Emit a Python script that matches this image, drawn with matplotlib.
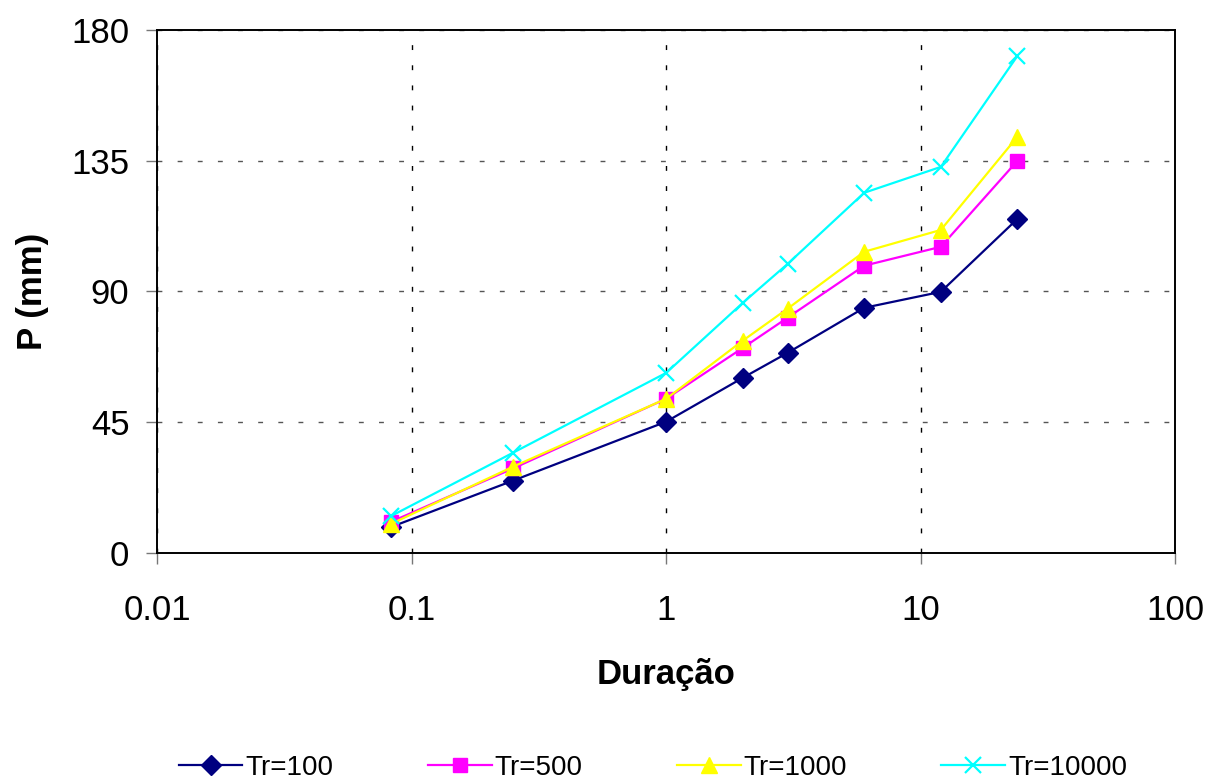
import matplotlib.pyplot as plt
import numpy as np

plt.rcParams['font.family'] = ['Liberation Sans', 'DejaVu Sans']

# data
duracao = [0.0833, 0.25, 1, 2, 3, 6, 12, 24]
tr100 = [8.9, 24.8, 45.1, 60.2, 68.8, 84.3, 89.8, 114.9]
tr500 = [10.7, 29.0, 53.0, 70.5, 80.9, 98.8, 105.3, 134.9]
tr1000 = [10.0, 29.6, 53.0, 73.0, 84.0, 103.6, 111.1, 143.2]
tr10000 = [12.7, 34.4, 61.9, 86.0, 99.4, 123.9, 132.8, 171.0]

fig = plt.figure(figsize=(12.09, 7.84), dpi=100)
ax = fig.add_axes([0.13, 0.295, 0.842, 0.667])

ax.plot(duracao, tr100, color='#000080', marker='D', markersize=10, lw=1.6, label='Tr=100')
ax.plot(duracao, tr500, color='#FF00FF', marker='s', markersize=10, lw=1.6, label='Tr=500')
ax.plot(duracao, tr1000, color='#FFFF00', marker='^', markersize=12, lw=1.6, label='Tr=1000')
ax.plot(duracao, tr10000, color='#00FFFF', marker='x', markersize=12, mew=1.6, lw=1.6, label='Tr=10000')

ax.set_xscale('log')
ax.set_xlim(0.01, 100)
ax.set_ylim(0, 180)
ax.set_yticks([0, 45, 90, 135, 180])
ax.set_xticks([0.01, 0.1, 1, 10, 100])
ax.set_xticklabels(['0.01', '0.1', '1', '10', '100'])
ax.minorticks_off()
ax.tick_params(labelsize=25, direction='out', length=8, width=1, color='#777777')
ax.tick_params(axis='x', pad=22)
ax.tick_params(axis='y', pad=12)
ax.xaxis.grid(True, color='black', linestyle=(0, (3.5, 11)), lw=1)
ax.yaxis.grid(True, color='#555555', linestyle=(0, (3.5, 11)), lw=1)
for s in ax.spines.values():
    s.set_linewidth(1.4)

ax.set_xlabel('Duração', fontsize=25, fontweight='bold', labelpad=22)
ax.set_ylabel('P (mm)', fontsize=25, fontweight='bold', labelpad=16)

fig.legend(loc='lower center', bbox_to_anchor=(0.54, -0.028), ncol=4, frameon=False,
           fontsize=20, columnspacing=3.4, handlelength=2.3, handletextpad=0.1)

fig.savefig('out.png')
